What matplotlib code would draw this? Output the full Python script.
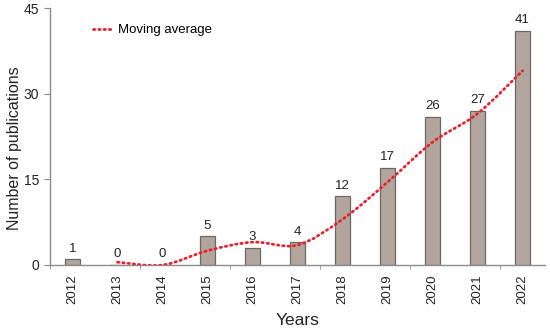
import numpy as np
import matplotlib.pyplot as plt
from matplotlib.path import Path
from matplotlib.patches import PathPatch
from matplotlib.lines import Line2D

# %%

years = ["2012", "2013", "2014", "2015", "2016", "2017", "2018", "2019", "2020", "2021", "2022"]
pubs = [1, 0, 0, 5, 3, 4, 12, 17, 26, 27, 41]

# moving average points (2013..2022)
ma_years = ["2013", "2014", "2015", "2016", "2017", "2018", "2019", "2020", "2021", "2022"]
ma_vals = [0.5, 0, 2.5, 4, 3.5, 8, 14.5, 21.5, 26.5, 34]

# %%

plt.rcParams['font.family'] = ['Liberation Sans', 'DejaVu Sans']
axis_col = "#8c8c8c"
red = "#e8212b"

fig = plt.figure(figsize=(5.5, 3.29), dpi=100)
ax = fig.add_axes([50/550, 1 - 265/329, 495/550, 257/329])

x = np.arange(len(years))
bars = ax.bar(x, pubs, width=0.34, color="#b2a59e", edgecolor="#6e6661", linewidth=0.9, zorder=2)
for xi, v in zip(x, pubs):
    ax.text(xi, v + 0.8, str(v), ha="center", va="bottom", fontsize=9.5, color="#222222")

# smoothed moving average (Excel-style cubic Bezier through the points)
mx = np.array([years.index(y) for y in ma_years], dtype=float)
my = np.array(ma_vals, dtype=float)
pts = np.column_stack([mx, my])
verts = [pts[0]]
codes = [Path.MOVETO]
n = len(pts)
for i in range(n - 1):
    p0 = pts[max(i - 1, 0)]
    p1 = pts[i]
    p2 = pts[i + 1]
    p3 = pts[min(i + 2, n - 1)]
    c1 = p1 + (p2 - p0) / 6
    c2 = p2 - (p3 - p1) / 6
    verts += [c1, c2, p2]
    codes += [Path.CURVE4] * 3
ax.add_patch(PathPatch(Path(verts, codes), fill=False, edgecolor=red, linewidth=2,
                       linestyle=(0, (0.5, 1.4)), capstyle="round", zorder=3))

ax.set_xlim(-0.5, len(years) - 0.5)
ax.set_ylim(0, 45)
ax.set_yticks([0, 15, 30, 45])
ax.set_xticks(x)
ax.set_xticklabels(years, rotation=90)
ax.set_xticks(np.arange(-0.5, len(years), 2), minor=True)
ax.tick_params(axis="x", which="major", length=0, pad=7, labelsize=9.5, labelcolor="#222222")
ax.tick_params(axis="x", which="minor", length=3, direction="out", color=axis_col)
ax.tick_params(axis="y", length=4, direction="out", color=axis_col, labelsize=10,
               labelcolor="#222222", pad=4)

for s in ["top", "right"]:
    ax.spines[s].set_visible(False)
for s in ["left", "bottom"]:
    ax.spines[s].set_color(axis_col)
    ax.spines[s].set_linewidth(1)

ax.set_xlabel("Years", fontsize=12.5, color="#222222", labelpad=6)
ax.set_ylabel("Number of publications", fontsize=11.5, color="#222222", va="center")
ax.yaxis.set_label_coords(-0.071, 0.455)

handle = Line2D([], [], color=red, linewidth=2, linestyle=(0, (0.5, 1.4)), dash_capstyle="round")
ax.legend([handle], ["Moving average"], loc="center left", bbox_to_anchor=(0.087, 0.914),
          frameon=False, borderpad=0, borderaxespad=0, handlelength=1.6, handletextpad=0.3,
          fontsize=9.5)

fig.savefig("out.png", dpi=100)
